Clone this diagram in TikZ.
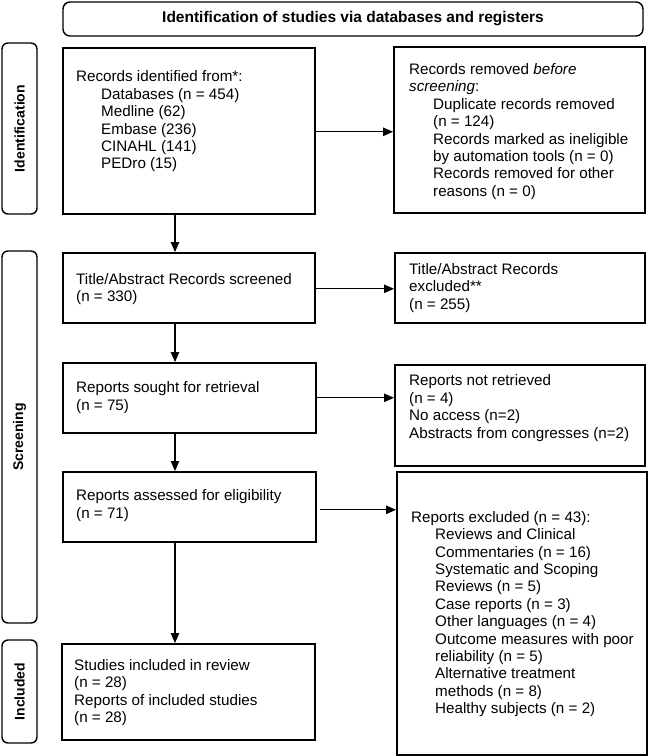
\documentclass[tikz,border=0pt]{standalone}
\usepackage{fontspec}
\setmainfont{Liberation Sans}
\usetikzlibrary{arrows.meta}
\begin{document}
\begin{tikzpicture}[x=1pt,y=-1pt,
  box/.style={draw, line width=1.6pt, anchor=north west, inner sep=0pt},
  side/.style={draw, line width=1.4pt, rounded corners=6pt, inner sep=0pt, rotate=90,
    minimum height=35pt, font=\fontsize{14}{16}\selectfont\bfseries},
  txt/.style={anchor=west, align=left, inner sep=0pt, font=\fontsize{15.2}{17.4}\selectfont},
  arr/.style={line width=1.1pt, -{Triangle[length=10pt,width=8.5pt]}},
]
\useasboundingbox (0,0) rectangle (649,756);
% header
\node[draw, line width=1.4pt, rounded corners=7pt, minimum width=580pt, minimum height=34pt,
  inner sep=0pt, font=\fontsize{15.5}{17}\selectfont\bfseries] (hdr) at (353,19)
  {Identification of studies via databases and registers};
% side labels
\node[side, minimum width=171pt] (sid) at (19.5,128.5) {Identification};
\node[side, minimum width=372pt] (ssc) at (19.5,437) {Screening};
\node[side, minimum width=103pt] (sin) at (19.5,691.5) {Included};
% boxes
\node[box, minimum width=252pt, minimum height=166pt] (b1) at (62,47) {};
\node[box, minimum width=251pt, minimum height=166pt] (r1) at (393,46) {};
\node[box, minimum width=252pt, minimum height=70pt] (b2) at (62,252) {};
\node[box, minimum width=250pt, minimum height=70pt] (r2) at (394,252) {};
\node[box, minimum width=253pt, minimum height=70pt] (b3) at (62,362) {};
\node[box, minimum width=250pt, minimum height=101pt] (r3) at (394,364) {};
\node[box, minimum width=253pt, minimum height=70pt] (b4) at (62,471) {};
\node[box, minimum width=250pt, minimum height=283pt] (r4) at (396,471) {};
\node[box, minimum width=253pt, minimum height=96pt] (b5) at (61,643) {};
% texts
\node[txt] (t1) at (76,121.5) {Records identified from*:\\
  \hspace*{25pt}Databases (n = 454)\\
  \hspace*{25pt}Medline (62)\\
  \hspace*{25pt}Embase (236)\\
  \hspace*{25pt}CINAHL (141)\\
  \hspace*{25pt}PEDro (15)};
\node[txt] (tr1) at (409,131.5) {Records removed \textit{before}\\
  \textit{screening}:\\
  \hspace*{24pt}Duplicate records removed\\
  \hspace*{24pt}(n = 124)\\
  \hspace*{24pt}Records marked as ineligible\\
  \hspace*{24pt}by automation tools (n = 0)\\
  \hspace*{24pt}Records removed for other\\
  \hspace*{24pt}reasons (n = 0)};
\node[txt] (t2) at (76,289) {Title/Abstract Records screened\\(n = 330)};
\node[txt] (tr2) at (409,288) {Title/Abstract Records\\excluded**\\(n = 255)};
\node[txt] (t3) at (76,397.5) {Reports sought for retrieval\\(n = 75)};
\node[txt] (tr3) at (409,408) {Reports not retrieved\\(n = 4)\\No access (n=2)\\Abstracts from congresses (n=2)};
\node[txt] (t4) at (76,505.5) {Reports assessed for eligibility\\(n = 71)};
\node[txt] (tr4) at (411,614) {Reports excluded (n = 43):\\
  \hspace*{24pt}Reviews and Clinical\\
  \hspace*{24pt}Commentaries (n = 16)\\
  \hspace*{24pt}Systematic and Scoping\\
  \hspace*{24pt}Reviews (n = 5)\\
  \hspace*{24pt}Case reports (n = 3)\\
  \hspace*{24pt}Other languages (n = 4)\\
  \hspace*{24pt}Outcome measures with poor\\
  \hspace*{24pt}reliability (n = 5)\\
  \hspace*{24pt}Alternative treatment\\
  \hspace*{24pt}methods (n = 8)\\
  \hspace*{24pt}Healthy subjects (n = 2)};
\node[txt] (t5) at (74,692.5) {Studies included in review\\(n = 28)\\Reports of included studies\\(n = 28)};
% arrows
\coordinate (ax) at (175,0);
\draw[arr] ([yshift=-1pt]b1.east) -- ([yshift=-1pt]b1.east -| r1.west);
\draw[arr] ([yshift=-1pt]b2.east) -- ([yshift=-1pt]b2.east -| r2.west);
\draw[arr] (b3.east) -- (b3.east -| r3.west);
\draw[arr] ([xshift=3pt,yshift=-3pt]b4.east) -- ([yshift=-3pt]b4.east -| r4.west);
\draw[arr] (b1.south -| ax) -- (b2.north -| ax);
\draw[arr] (b2.south -| ax) -- (b3.north -| ax);
\draw[arr] (b3.south -| ax) -- (b4.north -| ax);
\draw[arr] (b4.south -| ax) -- (b5.north -| ax);
\end{tikzpicture}
\end{document}
